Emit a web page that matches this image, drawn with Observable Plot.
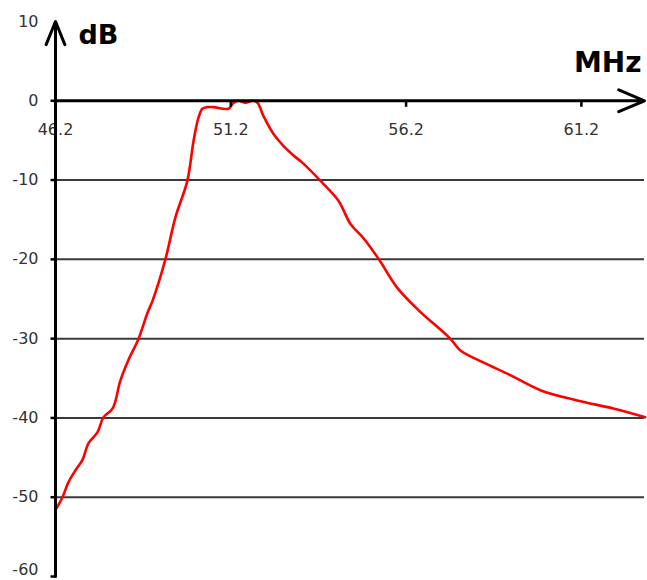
<!DOCTYPE html>
<html>
<head>
<meta charset="utf-8">
<script src="https://cdn.jsdelivr.net/npm/d3@7"></script>
<script src="https://cdn.jsdelivr.net/npm/@observablehq/plot@0.6"></script>
<style>
  html, body { margin: 0; padding: 0; background: #fff; }
  #chart svg { display: block; }
</style>
</head>
<body>
<div id="chart"></div>
<script>
// Frequency (MHz) and attenuation (dB)
const freq = [46.2, 46.40, 46.57, 46.77, 46.97, 47.14, 47.40, 47.57, 47.83, 48.05, 48.28, 48.57, 48.82, 48.97,
  49.34, 49.62, 49.96, 50.14, 50.28, 50.39, 50.53, 50.71, 51.13, 51.28, 51.42, 51.62, 51.82, 51.96,
  52.13, 52.42, 52.70, 52.99, 53.24, 53.76, 54.27, 54.61, 54.98, 55.41, 55.95, 56.55, 57.46, 57.75,
  58.40, 59.17, 60.03, 61.08, 62.11, 63.02];
const dB = [-51.6, -50.0, -48.1, -46.6, -45.3, -43.2, -41.8, -39.9, -38.8, -35.3, -32.7, -30.0, -26.8, -25.2,
  -19.9, -14.7, -10.1, -5.0, -2.1, -1.0, -0.8, -0.8, -1.0, -0.25, 0, -0.25, 0, -0.25,
  -1.9, -4.2, -5.7, -6.9, -7.8, -10.1, -12.6, -15.5, -17.3, -19.9, -23.6, -26.4, -30.0, -31.5,
  -33.0, -34.6, -36.5, -37.8, -38.8, -39.9];

const xTickLabels = [46.2, 51.2, 56.2, 61.2];
const yTickLabels = [10, 0, -10, -20, -30, -40, -50, -60];
const gridValues = [-10, -20, -30, -40, -50];
const xDomain = [46.2, 63.0];
const yDomain = [-60, 10];
const xUnit = "MHz";
const yUnit = "dB";

const rows = freq.map((f, i) => ({f, v: dB[i]}));
const yLabelsMain = yTickLabels.filter(d => d !== yDomain[0]);
const yLabelsBottom = yTickLabels.filter(d => d === yDomain[0]);

const tickDown = {draw(ctx) { ctx.moveTo(0, 0); ctx.lineTo(0, 6); }};
const tickLeft = {draw(ctx) { ctx.moveTo(0, 0); ctx.lineTo(-5, 0); }};

const font = "DejaVu Sans, Verdana, sans-serif";

const chart = Plot.plot({
  width: 647,
  height: 580,
  marginLeft: 55,
  marginRight: 3,
  marginTop: 21,
  marginBottom: 4,
  style: {background: "#fff", fontFamily: font},
  x: {domain: xDomain, axis: null},
  y: {domain: yDomain, axis: null},
  marks: [
    Plot.ruleY(gridValues, {y: d => d, stroke: "#3a3a3a", strokeWidth: 2}),
    Plot.text(xTickLabels, {x: d => d, y: 0, dy: 29, text: d => d.toFixed(1), fontSize: 16, fill: "#333", fontFamily: font}),
    Plot.text(yLabelsMain, {x: xDomain[0], y: d => d, dx: -17, text: d => String(d), textAnchor: "end", fontSize: 16, fill: "#333", fontFamily: font}),
    Plot.text(yLabelsBottom, {x: xDomain[0], y: d => d, dx: -17, dy: -7, text: d => String(d), textAnchor: "end", fontSize: 16, fill: "#333", fontFamily: font}),
    Plot.line(rows, {x: "f", y: "v", stroke: "#ff0000", strokeWidth: 2.6, strokeLinejoin: "round", curve: "catmull-rom"}),
    Plot.dot(xTickLabels.slice(1), {x: d => d, y: 0, symbol: tickDown, fill: "none", stroke: "#000", strokeWidth: 2.5}),
    Plot.dot(yTickLabels.slice(1), {x: xDomain[0], y: d => d, symbol: tickLeft, fill: "none", stroke: "#000", strokeWidth: 2.5}),
    Plot.arrow([{x1: xDomain[0], y1: 0, x2: xDomain[1], y2: 0}], {x1: "x1", y1: "y1", x2: "x2", y2: "y2", stroke: "#000", strokeWidth: 3, headLength: 14, headAngle: 46}),
    Plot.arrow([{x1: xDomain[0], y1: yDomain[0], x2: xDomain[0], y2: yDomain[1]}], {x1: "x1", y1: "y1", x2: "x2", y2: "y2", stroke: "#000", strokeWidth: 3, headLength: 12.5, headAngle: 44}),
    Plot.text([yUnit], {x: xDomain[0], y: yDomain[1], dx: 23, dy: 22, text: d => d, textAnchor: "start", lineAnchor: "bottom", fontSize: 27, fontWeight: "bold", fill: "#000", fontFamily: font}),
    Plot.text([xUnit], {x: xDomain[1], y: 0, dx: -3, dy: -29, text: d => d, textAnchor: "end", lineAnchor: "bottom", fontSize: 28, fontWeight: "bold", fill: "#000", fontFamily: font})
  ]
});
document.getElementById("chart").appendChild(chart);
</script>
</body>
</html>
